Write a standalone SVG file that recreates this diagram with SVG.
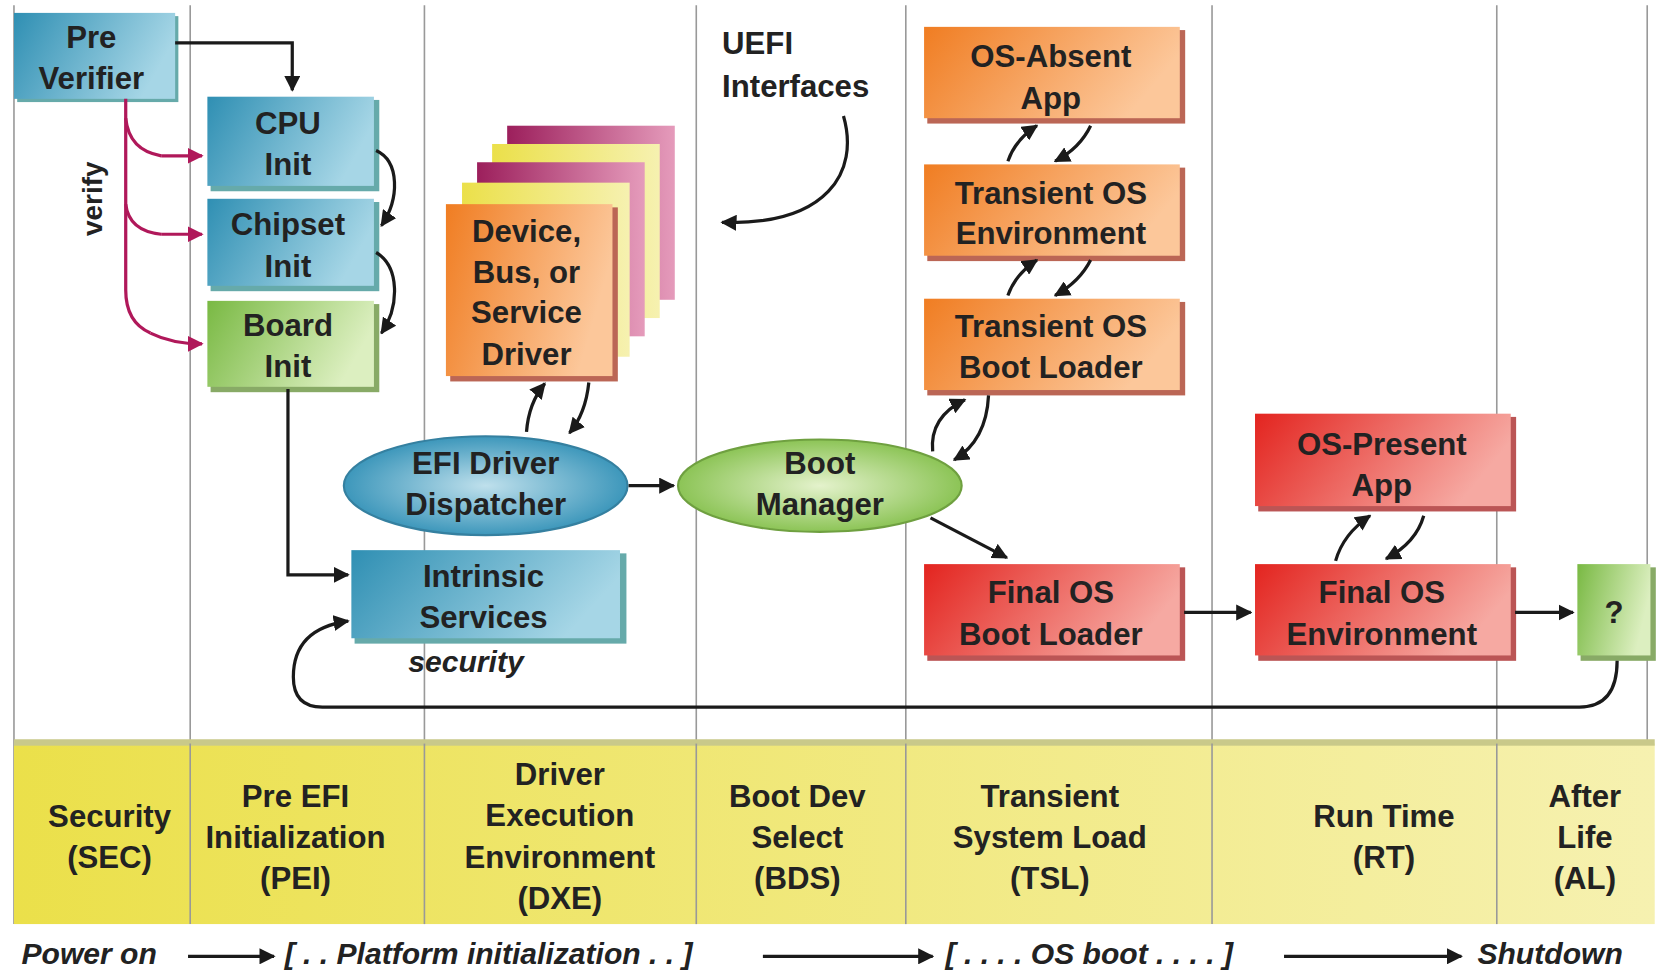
<svg xmlns="http://www.w3.org/2000/svg" width="1676" height="976" viewBox="0 0 1676 976">
<defs>
<linearGradient id="gb" x1="0" y1="0" x2="1" y2="0.3"><stop offset="0" stop-color="#2f8fb3"/><stop offset="1" stop-color="#a6d6e6"/></linearGradient>
<linearGradient id="gg" x1="0" y1="0" x2="1" y2="0.3"><stop offset="0" stop-color="#79b943"/><stop offset="1" stop-color="#dcefc0"/></linearGradient>
<linearGradient id="go" x1="0" y1="0" x2="1" y2="0.3"><stop offset="0" stop-color="#f07d22"/><stop offset="1" stop-color="#fcc79a"/></linearGradient>
<linearGradient id="gr" x1="0" y1="0" x2="1" y2="0.3"><stop offset="0" stop-color="#e3241f"/><stop offset="1" stop-color="#f6a9a2"/></linearGradient>
<linearGradient id="gy" x1="0" y1="0" x2="1" y2="0"><stop offset="0" stop-color="#ebe04a"/><stop offset="1" stop-color="#f6f1b0"/></linearGradient>
<linearGradient id="gm" x1="0" y1="0" x2="1" y2="0"><stop offset="0" stop-color="#9c1f5c"/><stop offset="1" stop-color="#e59bbb"/></linearGradient>
<radialGradient id="eb"><stop offset="0" stop-color="#bfe0ec"/><stop offset="1" stop-color="#3d97bb"/></radialGradient>
<radialGradient id="eg"><stop offset="0" stop-color="#e4f2cc"/><stop offset="1" stop-color="#8cc456"/></radialGradient>
<marker id="a" viewBox="0 0 10 10" refX="9" refY="5" markerWidth="5" markerHeight="5" orient="auto"><path d="M0,0 L10,5 L0,10 z" fill="#1a1a1a"/></marker>
<marker id="am" viewBox="0 0 10 10" refX="9" refY="5" markerWidth="5" markerHeight="5" orient="auto"><path d="M0,0 L10,5 L0,10 z" fill="#b0185a"/></marker>
<style>
.t{font-family:"Liberation Sans",Arial,sans-serif;font-weight:bold;font-size:29px;fill:#222;text-anchor:middle}
.i{font-family:"Liberation Sans",Arial,sans-serif;font-weight:bold;font-style:italic;font-size:28px;fill:#222}
.c{fill:none;stroke:#1a1a1a;stroke-width:3;marker-end:url(#a)}
.m{fill:none;stroke:#b0185a;stroke-width:3}
.v{stroke:#999;stroke-width:1.5}
.s{stroke:#555;stroke-width:1;stroke-opacity:0.5}
</style>
</defs>
<rect width="1676" height="976" fill="#fff"/>
<g transform="scale(1.0745)">
<g id="lanes">
<line class="v" x1="13" y1="5" x2="13" y2="860"/><line class="v" x1="177" y1="5" x2="177" y2="860"/><line class="v" x1="395" y1="5" x2="395" y2="860"/><line class="v" x1="648" y1="5" x2="648" y2="860"/><line class="v" x1="843" y1="5" x2="843" y2="860"/><line class="v" x1="1128" y1="5" x2="1128" y2="860"/><line class="v" x1="1393" y1="5" x2="1393" y2="860"/><line class="v" x1="1533" y1="5" x2="1533" y2="860"/>
</g>
<g id="band">
<rect x="13" y="692" width="1527" height="168" fill="url(#gy)"/>
<rect x="13" y="688" width="1527" height="6" fill="#c9c98a"/>
<g stroke="#999" stroke-width="1.5"><line x1="177" y1="692" x2="177" y2="860"/><line x1="395" y1="692" x2="395" y2="860"/><line x1="648" y1="692" x2="648" y2="860"/><line x1="843" y1="692" x2="843" y2="860"/><line x1="1128" y1="692" x2="1128" y2="860"/><line x1="1393" y1="692" x2="1393" y2="860"/></g>
<text class="t" x="102" y="770">Security</text><text class="t" x="102" y="808">(SEC)</text>
<text class="t" x="275" y="751">Pre EFI</text><text class="t" x="275" y="789">Initialization</text><text class="t" x="275" y="827">(PEI)</text>
<text class="t" x="521" y="731">Driver</text><text class="t" x="521" y="769">Execution</text><text class="t" x="521" y="808">Environment</text><text class="t" x="521" y="846">(DXE)</text>
<text class="t" x="742" y="751">Boot Dev</text><text class="t" x="742" y="789">Select</text><text class="t" x="742" y="827">(BDS)</text>
<text class="t" x="977" y="751">Transient</text><text class="t" x="977" y="789">System Load</text><text class="t" x="977" y="827">(TSL)</text>
<text class="t" x="1288" y="770">Run Time</text><text class="t" x="1288" y="808">(RT)</text>
<text class="t" x="1475" y="751">After</text><text class="t" x="1475" y="789">Life</text><text class="t" x="1475" y="827">(AL)</text>
</g>
<g id="timeline">
<text class="i" x="20" y="897">Power on</text>
<text class="i" x="265" y="897">[ . . Platform initialization . . ]</text>
<text class="i" x="880" y="897">[ . . . . OS boot . . . . ]</text>
<text class="i" x="1375" y="897">Shutdown</text>
<line class="c" x1="175" y1="890" x2="255" y2="890"/>
<line class="c" x1="710" y1="890" x2="868" y2="890"/>
<line class="c" x1="1195" y1="890" x2="1360" y2="890"/>
</g>
<g id="pre-verifier"><rect x="16" y="15" width="150" height="80" fill="#6aa"/><rect x="13" y="12" width="150" height="80" fill="url(#gb)"/><text class="t" x="85" y="45">Pre</text><text class="t" x="85" y="83">Verifier</text></g>
<g id="cpu-init"><rect x="196" y="93" width="157" height="85" fill="#6aa"/><rect x="193" y="90" width="155" height="83" fill="url(#gb)"/><text class="t" x="268" y="125">CPU</text><text class="t" x="268" y="163">Init</text></g>
<g id="chipset-init"><rect x="196" y="188" width="157" height="83" fill="#6aa"/><rect x="193" y="185" width="155" height="81" fill="url(#gb)"/><text class="t" x="268" y="219">Chipset</text><text class="t" x="268" y="258">Init</text></g>
<g id="board-init"><rect x="196" y="283" width="157" height="82" fill="#8a6"/><rect x="193" y="280" width="155" height="80" fill="url(#gg)"/><text class="t" x="268" y="313">Board</text><text class="t" x="268" y="351">Init</text></g>
<g id="device-driver">
<rect x="472" y="117" width="156" height="162" fill="url(#gm)"/>
<rect x="458" y="134" width="156" height="162" fill="url(#gy)"/>
<rect x="444" y="151" width="156" height="162" fill="url(#gm)"/>
<rect x="430" y="170" width="156" height="162" fill="url(#gy)"/>
<rect x="419" y="193" width="156" height="162" fill="#b65"/>
<rect x="415" y="190" width="155" height="160" fill="url(#go)"/>
<text class="t" x="490" y="225">Device,</text><text class="t" x="490" y="263">Bus, or</text><text class="t" x="490" y="301">Service</text><text class="t" x="490" y="340">Driver</text>
</g>
<g id="efi-dispatcher"><ellipse cx="452" cy="452" rx="132" ry="46" fill="url(#eb)" stroke="#3580a0" stroke-width="2"/><text class="t" x="452" y="441">EFI Driver</text><text class="t" x="452" y="479">Dispatcher</text></g>
<g id="boot-manager"><ellipse cx="763" cy="452" rx="132" ry="43" fill="url(#eg)" stroke="#6fa040" stroke-width="2"/><text class="t" x="763" y="441">Boot</text><text class="t" x="763" y="479">Manager</text></g>
<g id="intrinsic"><rect x="330" y="515" width="253" height="84" fill="#6aa"/><rect x="327" y="512" width="250" height="82" fill="url(#gb)"/><text class="t" x="450" y="546">Intrinsic</text><text class="t" x="450" y="584">Services</text></g>
<text class="i" x="380" y="625">security</text>
<g id="uefi-interfaces"><text class="t" x="672" y="50" style="text-anchor:start">UEFI</text><text class="t" x="672" y="90" style="text-anchor:start">Interfaces</text></g>
<g id="os-absent"><rect x="863" y="28" width="240" height="87" fill="#b65"/><rect x="860" y="25" width="238" height="85" fill="url(#go)"/><text class="t" x="978" y="62">OS-Absent</text><text class="t" x="978" y="101">App</text></g>
<g id="transient-env"><rect x="863" y="156" width="240" height="87" fill="#b65"/><rect x="860" y="153" width="238" height="85" fill="url(#go)"/><text class="t" x="978" y="190">Transient OS</text><text class="t" x="978" y="227">Environment</text></g>
<g id="transient-loader"><rect x="863" y="281" width="240" height="87" fill="#b65"/><rect x="860" y="278" width="238" height="85" fill="url(#go)"/><text class="t" x="978" y="314">Transient OS</text><text class="t" x="978" y="352">Boot Loader</text></g>
<g id="os-present"><rect x="1171" y="388" width="240" height="88" fill="#b55"/><rect x="1168" y="385" width="238" height="86" fill="url(#gr)"/><text class="t" x="1286" y="423">OS-Present</text><text class="t" x="1286" y="462">App</text></g>
<g id="final-loader"><rect x="863" y="528" width="240" height="87" fill="#b55"/><rect x="860" y="525" width="238" height="85" fill="url(#gr)"/><text class="t" x="978" y="561">Final OS</text><text class="t" x="978" y="600">Boot Loader</text></g>
<g id="final-env"><rect x="1171" y="528" width="240" height="87" fill="#b55"/><rect x="1168" y="525" width="238" height="85" fill="url(#gr)"/><text class="t" x="1286" y="561">Final OS</text><text class="t" x="1286" y="600">Environment</text></g>
<g id="after-life"><rect x="1471" y="528" width="70" height="87" fill="#8a6"/><rect x="1468" y="525" width="68" height="85" fill="url(#gg)"/><text class="t" x="1502" y="580">?</text></g>
<g id="connectors">
<path class="c" d="M163,40 H272 V84"/>
<path class="c" d="M350,140 C372,150 372,185 355,210"/>
<path class="c" d="M350,235 C372,248 372,285 355,310"/>
<path class="m" d="M117,92 V270 Q117,300 140,310"/>
<path class="m" d="M117,110 Q120,140 150,145" /><path class="m" d="M117,190 Q120,215 150,218"/>
<path class="m" d="M150,145 H188" marker-end="url(#am)"/><path class="m" d="M150,218 H188" marker-end="url(#am)"/><path class="m" d="M140,310 Q160,320 188,320" marker-end="url(#am)"/>
<path class="c" d="M268,362 V535 H324"/>
<path class="c" d="M1505,615 Q1505,658 1470,658 H300 Q273,658 273,630 Q273,585 324,578"/>
<path class="c" d="M490,402 Q492,375 507,357"/>
<path class="c" d="M548,356 Q545,385 530,403"/>
<line class="c" x1="585" y1="452" x2="627" y2="452"/>
<path class="c" d="M868,420 Q865,388 898,372"/>
<path class="c" d="M920,368 Q918,410 888,428"/>
<line class="c" x1="866" y1="482" x2="937" y2="519"/>
<path class="c" d="M938,150 Q945,130 965,117"/>
<path class="c" d="M1015,117 Q1005,138 982,150"/>
<path class="c" d="M938,275 Q945,255 965,242"/>
<path class="c" d="M1015,242 Q1005,262 982,275"/>
<path class="c" d="M1243,522 Q1250,497 1275,480"/>
<path class="c" d="M1325,480 Q1318,505 1290,520"/>
<line class="c" x1="1102" y1="570" x2="1164" y2="570"/>
<line class="c" x1="1410" y1="570" x2="1464" y2="570"/>
<path class="c" d="M785,108 C800,160 770,210 672,207"/>
</g>
<text class="t" x="95" y="185" transform="rotate(-90 95 185)" style="font-size:26px">verify</text>
</g>
</svg>
